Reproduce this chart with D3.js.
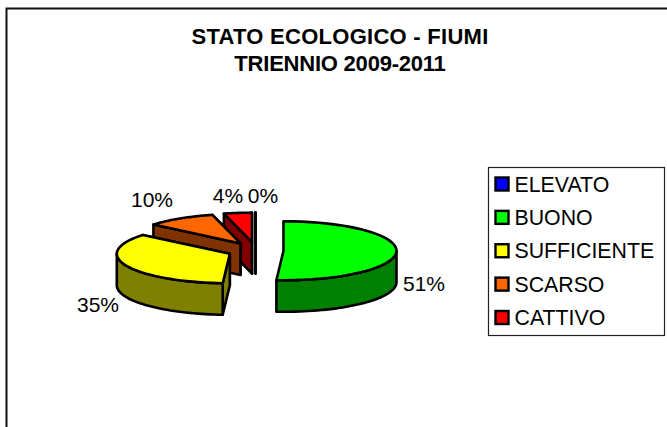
<!DOCTYPE html>
<html><head><meta charset="utf-8">
<script src="https://cdn.jsdelivr.net/npm/d3@7/dist/d3.min.js"></script>
<style>html,body{margin:0;padding:0;background:#fff}svg{display:block}text{font-family:"Liberation Sans",Arial,sans-serif;fill:#000}</style>
</head><body><svg id="c" width="667" height="427"></svg>
<script>
const categories = ["ELEVATO","BUONO","SUFFICIENTE","SCARSO","CATTIVO"];
const values = [0,51,35,10,4];
const topColors = ["#0000FF","#00FF00","#FFFF00","#FF6600","#FF0000"];
const sideColors = ["#000080","#008000","#808000","#803300","#800000"];
const titleLines = ["STATO ECOLOGICO - FIUMI","TRIENNIO 2009-2011"];

const W=667,H=427, base={x:255.5,y:250.5}, rx=113, ry=29.5, depth=31.5, explode=28, squash=0.3;
const titleSpacing=[0.27,-0.22];
const labelAnchors=[[263,203],[424,291],[98,312],[152,207],[228,203]];
const svg=d3.select("#c");

svg.append("path").attr("d",`M6.5 ${H+5}V8.5H${W+5}`).attr("fill","none").attr("stroke","#111").attr("stroke-width",2);

const title=svg.append("g").attr("text-anchor","middle").attr("font-weight","bold").attr("font-size",22);
titleLines.forEach((t,i)=>title.append("text").attr("x",340).attr("y",44+i*27).attr("letter-spacing",titleSpacing[i]).text(t));

const total=d3.sum(values);
const arcs=d3.pie().sort(null).value(d=>d).startAngle(0).endAngle(2*Math.PI)(values).map((a,i)=>{
  const mid=(a.startAngle+a.endAngle)/2;
  return {i,a0:a.startAngle,a1:a.endAngle,
    cx:base.x+explode*Math.sin(mid),
    cy:base.y-explode*squash*Math.cos(mid)};
});
const pt=(s,t,dz=0)=>[s.cx+rx*Math.sin(t),s.cy-ry*Math.cos(t)+dz];
const samples=(a,b)=>d3.range(0,41).map(k=>a+(b-a)*k/40);
const line=d3.line();
const order=[0,4,3,2,1];
const g=svg.append("g").attr("stroke","#000").attr("stroke-width",2.6).attr("stroke-linejoin","round");
order.forEach(idx=>{
  const s=arcs[idx];
  const side=sideColors[idx], top=topColors[idx];
  const cut=t=>[[s.cx,s.cy],pt(s,t),pt(s,t,depth),[s.cx,s.cy+depth]];
  if(Math.sin(s.a1)<=0 && idx!==1) g.append("path").attr("d",line(cut(s.a1))+"Z").attr("fill",side);
  if(Math.sin(s.a0)<0 || idx===0) g.append("path").attr("d",line(cut(s.a0))+"Z").attr("fill",side);
  const f0=Math.max(s.a0,Math.PI/2), f1=Math.min(s.a1,3*Math.PI/2);
  if(f1>f0){
    const o=samples(f0,f1);
    const pts=o.map(t=>pt(s,t)).concat(o.slice().reverse().map(t=>pt(s,t,depth)));
    g.append("path").attr("d",line(pts)+"Z").attr("fill",side);
  }
  const rim=samples(s.a0,s.a1).map(t=>pt(s,t));
  g.append("path").attr("d",line([[s.cx,s.cy],...rim])+"Z").attr("fill",top);
});

const labels=svg.append("g").attr("text-anchor","middle").attr("font-size",21).selectAll("text").data(values).join("text")
  .attr("x",(d,i)=>labelAnchors[i][0]).attr("y",(d,i)=>labelAnchors[i][1])
  .text(d=>Math.round(d/total*100)+"%");

const lx=488,ly=167,lw=176,lh=168;
const leg=svg.append("g");
leg.append("rect").attr("x",lx+.5).attr("y",ly+.5).attr("width",lw).attr("height",lh).attr("fill","#fff").attr("stroke","#222").attr("stroke-width",1.2);
const yRow=d3.scalePoint().domain(categories).range([184,317.5]);
categories.forEach((c,i)=>{
  leg.append("rect").attr("x",495.5).attr("y",yRow(c)-6.5).attr("width",13).attr("height",13).attr("fill",topColors[i]).attr("stroke","#000").attr("stroke-width",2.4);
  leg.append("text").attr("x",514.5).attr("y",yRow(c)+7.5).attr("font-size",21.3).text(c);
});
</script></body></html>
